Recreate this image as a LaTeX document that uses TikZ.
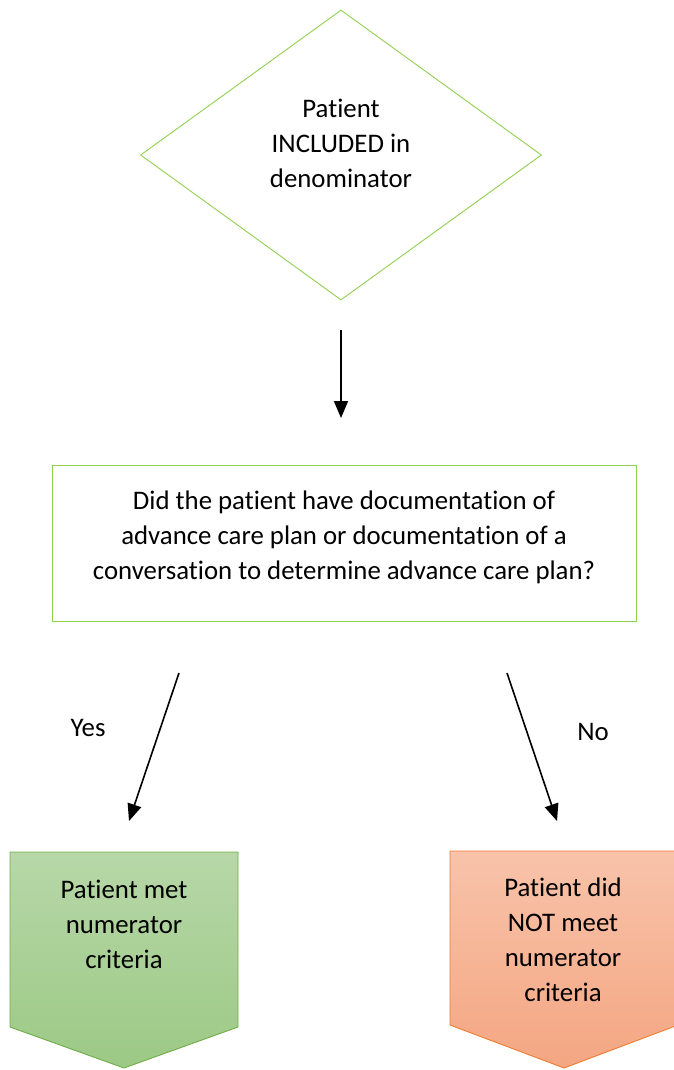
\documentclass[tikz,border=0pt]{standalone}
\usepackage{fontspec}
\setmainfont{Carlito}[Ligatures=NoCommon]
\usetikzlibrary{shapes.geometric,arrows.meta}
\definecolor{lightgrn}{HTML}{92D050}
\definecolor{grnedge}{HTML}{70AD47}
\definecolor{grntop}{HTML}{B7D7A8}
\definecolor{grnbot}{HTML}{9CC985}
\definecolor{orgedge}{HTML}{ED7D31}
\definecolor{orgtop}{HTML}{F8C3AA}
\definecolor{orgbot}{HTML}{F4A682}
\tikzset{decision/.style = {shape=diamond, draw=lightgrn, line width=0.9pt, minimum width=401pt, minimum height=290pt, inner sep=0pt},
         question/.style = {draw=lightgrn, line width=0.9pt, minimum width=584pt, minimum height=156pt, align=center, text depth=16pt},
         txt/.style = {align=center, font=\fontsize{26.8}{35}\selectfont},
         flow/.style = {line width=1.6pt, -{Triangle[width=14pt,length=17pt]}}}

\begin{document}
\begin{tikzpicture}[x=1pt,y=-1pt]
\useasboundingbox (0,0) rectangle (674,1070);
\node[decision] (dia) at (341,155) {};
\node[txt] (incl) at (341,143) {Patient\\INCLUDED in\\denominator};
\node[question, txt] (ask) at (344,543) {Did the patient have documentation of\\advance care plan or documentation of a\\conversation to determine advance care plan?};
% outcome shapes
\shade[top color=grntop, bottom color=grnbot, draw=grnedge, line width=0.9pt] (10,852) -- (238,852) -- (238,1027) -- (124,1068) -- (10,1027) -- cycle;
\shade[top color=orgtop, bottom color=orgbot, draw=orgedge, line width=0.9pt] (450,851) -- (678,851) -- (678,1025) -- (564,1068) -- (450,1025) -- cycle;
\node[txt] (met) at (124,924) {Patient met\\numerator\\criteria};
\node[txt] (notmet) at (563,940) {Patient did\\NOT meet\\numerator\\criteria};
% arrows
\coordinate (a1) at (341,330);
\coordinate (a2) at (341,418);
\coordinate (y1) at (179,673);
\coordinate (y2) at (129,821);
\coordinate (n1) at (507,673);
\coordinate (n2) at (557,821);
\draw[flow] (a1) -- (a2);
\draw[flow] (y1) -- (y2);
\draw[flow] (n1) -- (n2);
\node[txt] (yes) at (88,728) {Yes};
\node[txt] (no) at (593,732) {No};
\end{tikzpicture}
\end{document}
